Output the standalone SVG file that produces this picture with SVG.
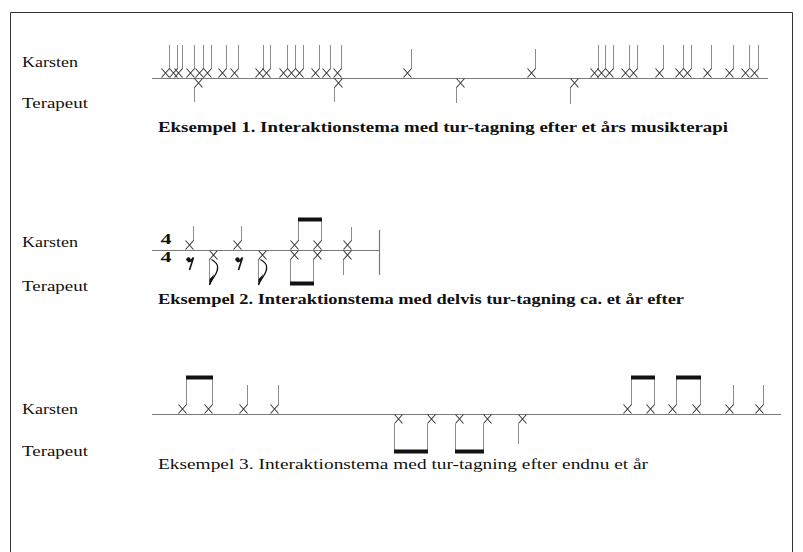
<svg xmlns="http://www.w3.org/2000/svg" xmlns:xlink="http://www.w3.org/1999/xlink" width="803" height="552" viewBox="0 0 803 552">
<style>
.lbl{font-size:15px;fill:#111}
.cap{font-size:14px;fill:#111}
.b{font-weight:bold}
.staff{stroke:#7a7a7a;stroke-width:1.2;fill:none}
.st{stroke:#8c8c8c;stroke-width:1;fill:none}
.hd{stroke:#3a3a3a;stroke-width:1.1;fill:none}
.beam{fill:#111}
.sym{fill:#111;stroke:#111}
</style>
<defs>
<path id="hu" class="hd" d="M-8,-9.5 L0,-0.5 M0,-9.5 L-8,-0.5"/>
<path id="hdn" class="hd" d="M0,0.5 L8,9.5 M8,0.5 L0,9.5"/>
</defs>
<rect width="803" height="552" fill="#fff"/>
<path d="M10.5,552 V12.5 H792.5 V552" stroke="#333" stroke-width="1" fill="none"/>

<g id="labels" font-family="Liberation Serif, Times New Roman, serif">
<text class="lbl" x="22" y="67" textLength="56" lengthAdjust="spacingAndGlyphs">Karsten</text>
<text class="lbl" x="22" y="108" textLength="66" lengthAdjust="spacingAndGlyphs">Terapeut</text>
<text class="lbl" x="22" y="247" textLength="56" lengthAdjust="spacingAndGlyphs">Karsten</text>
<text class="lbl" x="22" y="291" textLength="66" lengthAdjust="spacingAndGlyphs">Terapeut</text>
<text class="lbl" x="22" y="414" textLength="56" lengthAdjust="spacingAndGlyphs">Karsten</text>
<text class="lbl" x="22" y="456" textLength="66" lengthAdjust="spacingAndGlyphs">Terapeut</text>
</g>

<g id="example1">
<path class="staff" d="M152,78.5 H768"/>
<path class="st" d="M169.5,45V69 M177.5,45V69 M182.5,45V69 M194.5,45V69 M203.5,45V69 M211.5,45V69 M226.5,45V69 M238.5,45V69 M263.5,45V69 M270.5,45V69 M287.5,45V69 M295.5,45V69 M303.5,45V69 M319.5,45V69 M330.5,45V69 M341.5,45V69 M411.5,49V69 M535.5,49V69 M598.5,45V69 M605.5,45V69 M613.5,45V69 M629.5,45V69 M637.5,45V69 M663.5,45V69 M683.5,45V69 M691.5,45V69 M711.5,45V69 M733.5,45V69 M749.5,45V69 M758.5,45V69"/>
<path class="st" d="M194.5,87V102 M334.5,87V102 M456.5,87V103 M570.5,87V104"/>
<g>
<use xlink:href="#hu" x="169.5" y="78"/><use xlink:href="#hu" x="177.5" y="78"/><use xlink:href="#hu" x="182.5" y="78"/><use xlink:href="#hu" x="194.5" y="78"/><use xlink:href="#hu" x="203.5" y="78"/><use xlink:href="#hu" x="211.5" y="78"/><use xlink:href="#hu" x="226.5" y="78"/><use xlink:href="#hu" x="238.5" y="78"/><use xlink:href="#hu" x="263.5" y="78"/><use xlink:href="#hu" x="270.5" y="78"/><use xlink:href="#hu" x="287.5" y="78"/><use xlink:href="#hu" x="295.5" y="78"/><use xlink:href="#hu" x="303.5" y="78"/><use xlink:href="#hu" x="319.5" y="78"/><use xlink:href="#hu" x="330.5" y="78"/><use xlink:href="#hu" x="341.5" y="78"/><use xlink:href="#hu" x="411.5" y="78"/><use xlink:href="#hu" x="535.5" y="78"/><use xlink:href="#hu" x="598.5" y="78"/><use xlink:href="#hu" x="605.5" y="78"/><use xlink:href="#hu" x="613.5" y="78"/><use xlink:href="#hu" x="629.5" y="78"/><use xlink:href="#hu" x="637.5" y="78"/><use xlink:href="#hu" x="663.5" y="78"/><use xlink:href="#hu" x="683.5" y="78"/><use xlink:href="#hu" x="691.5" y="78"/><use xlink:href="#hu" x="711.5" y="78"/><use xlink:href="#hu" x="733.5" y="78"/><use xlink:href="#hu" x="749.5" y="78"/><use xlink:href="#hu" x="758.5" y="78"/>
<use xlink:href="#hdn" x="194.5" y="78"/><use xlink:href="#hdn" x="334.5" y="78"/><use xlink:href="#hdn" x="456.5" y="78"/><use xlink:href="#hdn" x="570.5" y="78"/>
</g>
<text class="cap b" font-family="Liberation Serif, Times New Roman, serif" x="158" y="132" textLength="570" lengthAdjust="spacingAndGlyphs">Eksempel 1. Interaktionstema med tur-tagning efter et års musikterapi</text>
</g>

<g id="example2">
<path class="staff" d="M152,250.5 H380"/>
<path class="staff" d="M379.5,230 V275"/>
<g font-family="Liberation Serif, Times New Roman, serif" font-weight="bold" font-size="15" fill="#111" text-anchor="middle">
<text x="166" y="244" textLength="11" lengthAdjust="spacingAndGlyphs">4</text>
<text x="166" y="262" textLength="11" lengthAdjust="spacingAndGlyphs">4</text>
</g>
<path class="st" d="M193.5,226V241 M241.5,226V241 M298.5,220V241 M321.5,220V241 M351.5,227V241"/>
<path class="st" d="M209.5,259V285 M258.5,259V285 M290.5,259V285 M313.5,259V285 M343.5,259V275"/>
<use xlink:href="#hu" x="193.5" y="250"/><use xlink:href="#hu" x="241.5" y="250"/><use xlink:href="#hu" x="298.5" y="250"/><use xlink:href="#hu" x="321.5" y="250"/><use xlink:href="#hu" x="351.5" y="250"/>
<use xlink:href="#hdn" x="209.5" y="250"/><use xlink:href="#hdn" x="258.5" y="250"/><use xlink:href="#hdn" x="290.5" y="250"/><use xlink:href="#hdn" x="313.5" y="250"/><use xlink:href="#hdn" x="343.5" y="250"/>
<rect class="beam" x="298" y="217.5" width="24" height="4"/>
<rect class="beam" x="290" y="281.5" width="24" height="4"/>
<g id="rest1"><circle class="sym" cx="188.5" cy="259.5" r="1.8"/><path d="M188,261.5 Q191,262 193.5,257.5 L189.5,270" stroke="#111" stroke-width="1.6" fill="none"/></g>
<g id="rest2"><circle class="sym" cx="237.5" cy="259.5" r="1.8"/><path d="M237,261.5 Q240,262 242.5,257.5 L238.5,270" stroke="#111" stroke-width="1.6" fill="none"/></g>
<g id="flag1"><path d="M209.5,285 C212,277 219,274 217.5,266 C217,263 214,261 211.5,259.5" stroke="#111" stroke-width="1.3" fill="none"/><path d="M209.5,285.5 L209.5,279 Q212,277 214,274 Q213,280 209.5,285.5 Z" fill="#111"/></g>
<g id="flag2"><path d="M258.5,285 C261,277 268,274 266.5,266 C266,263 263,261 260.5,259.5" stroke="#111" stroke-width="1.3" fill="none"/><path d="M258.5,285.5 L258.5,279 Q261,277 263,274 Q262,280 258.5,285.5 Z" fill="#111"/></g>
<text class="cap b" font-family="Liberation Serif, Times New Roman, serif" x="158" y="304" textLength="526" lengthAdjust="spacingAndGlyphs">Eksempel 2. Interaktionstema med delvis tur-tagning ca. et år efter</text>
</g>

<g id="example3">
<path class="staff" d="M152,414.5 H781"/>
<path class="st" d="M186.5,377V405 M212.5,377V405 M247.5,385V405 M278.5,385V405 M631.5,377V405 M654.5,377V405 M676.5,377V405 M700.5,377V405 M733.5,385V405 M763.5,385V405"/>
<path class="st" d="M394.5,424V451 M427.5,424V451 M455.5,424V451 M483.5,424V451 M518.5,424V444"/>
<use xlink:href="#hu" x="186.5" y="414"/><use xlink:href="#hu" x="212.5" y="414"/><use xlink:href="#hu" x="247.5" y="414"/><use xlink:href="#hu" x="278.5" y="414"/><use xlink:href="#hu" x="631.5" y="414"/><use xlink:href="#hu" x="654.5" y="414"/><use xlink:href="#hu" x="676.5" y="414"/><use xlink:href="#hu" x="700.5" y="414"/><use xlink:href="#hu" x="733.5" y="414"/><use xlink:href="#hu" x="763.5" y="414"/>
<use xlink:href="#hdn" x="394.5" y="414"/><use xlink:href="#hdn" x="427.5" y="414"/><use xlink:href="#hdn" x="455.5" y="414"/><use xlink:href="#hdn" x="483.5" y="414"/><use xlink:href="#hdn" x="518.5" y="414"/>
<rect class="beam" x="186" y="375.5" width="27" height="4"/>
<rect class="beam" x="631" y="375.5" width="24" height="4"/>
<rect class="beam" x="676" y="375.5" width="25" height="4"/>
<rect class="beam" x="394" y="449.5" width="34" height="4"/>
<rect class="beam" x="455" y="449.5" width="29" height="4"/>
<text class="cap" font-family="Liberation Serif, Times New Roman, serif" x="158" y="469" textLength="490" lengthAdjust="spacingAndGlyphs">Eksempel 3. Interaktionstema med tur-tagning efter endnu et år</text>
</g>
</svg>
